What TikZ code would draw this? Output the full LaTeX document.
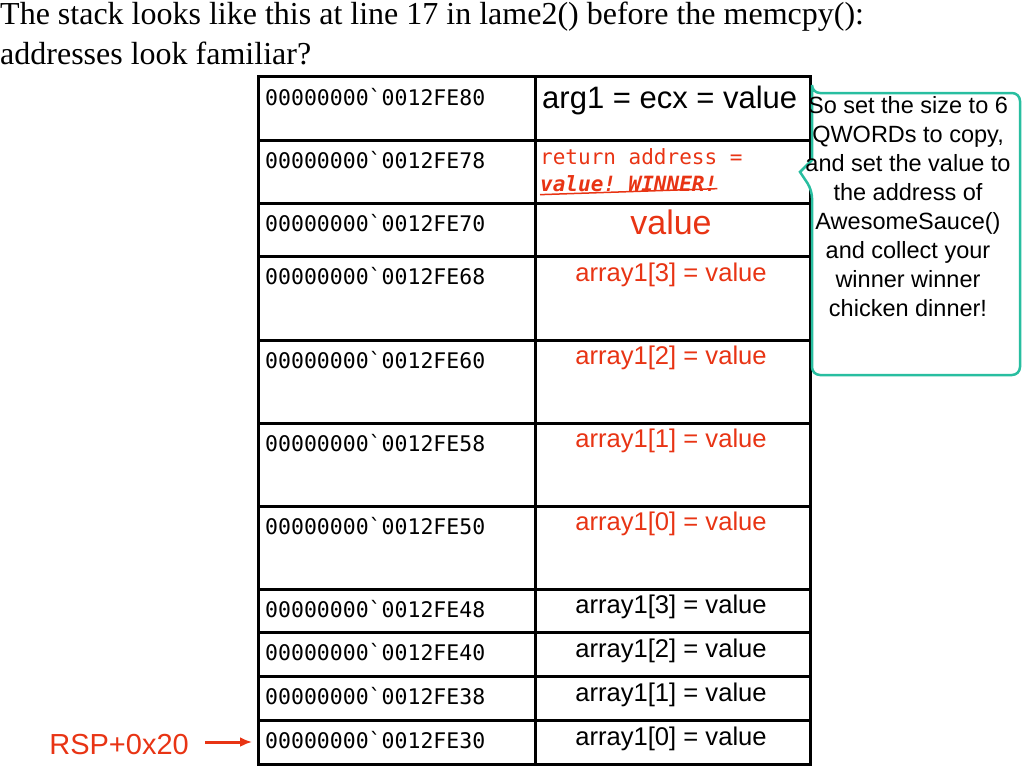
\documentclass[tikz,border=0pt]{standalone}
\usepackage{fontspec}
\setmainfont{Liberation Serif}
\setsansfont{Liberation Sans}
\setmonofont{DejaVu Sans Mono}
\usetikzlibrary{arrows.meta}
\definecolor{myred}{RGB}{232,52,20}
\definecolor{teal2}{RGB}{40,190,160}
\begin{document}
\begin{tikzpicture}[x=1pt,y=-1pt,
  cell/.style={draw=black,line width=3pt},
  addr/.style={anchor=north west,font=\ttfamily\fontsize{21.5}{23}\selectfont,inner sep=0pt},
  val/.style={anchor=north,font=\sffamily\fontsize{25.6}{27}\selectfont,inner sep=0pt}]
\useasboundingbox (0,0) rectangle (1024,768);
\node[anchor=north west,inner sep=0pt,align=left,font=\fontsize{32}{40}\selectfont] (title) at (0,2)
  {The stack looks like this at line 17 in lame2() before the memcpy():\\addresses look familiar?};
\foreach \t/\b [count=\i] in {76/140,140/203,203/256,256/340,340/423,423/506,506/589,589/632,632/676,676/720,720/764}{
  \draw[cell] (258,\t) rectangle (535,\b);
  \draw[cell] (535,\t) rectangle (810,\b);
}
\node[addr] (a1) at (265,88) {00000000`0012FE80};
\node[addr] (a2) at (265,151) {00000000`0012FE78};
\node[addr] (a3) at (265,214) {00000000`0012FE70};
\node[addr] (a4) at (265,267) {00000000`0012FE68};
\node[addr] (a5) at (265,351) {00000000`0012FE60};
\node[addr] (a6) at (265,434) {00000000`0012FE58};
\node[addr] (a7) at (265,517) {00000000`0012FE50};
\node[addr] (a8) at (265,600) {00000000`0012FE48};
\node[addr] (a9) at (265,643) {00000000`0012FE40};
\node[addr] (a10) at (265,687) {00000000`0012FE38};
\node[addr] (a11) at (265,731) {00000000`0012FE30};
\node[val,anchor=north west,font=\sffamily\fontsize{31}{33}\selectfont] (v1) at (542,86) {arg1 = ecx = value};
\node[anchor=north west,inner sep=0pt,text=myred,font=\ttfamily\fontsize{21}{22}\selectfont] (v2) at (540,148) {return address =};
\node[anchor=north west,inner sep=0pt,text=myred,font=\ttfamily\bfseries\itshape\fontsize{21}{22}\selectfont] (v2b) at (540,175) {value! WINNER!};
\draw[myred,line width=1.5pt] (v2b.south west) ++(0,3) -- ([yshift=3pt]v2b.south east);
\node[val,text=myred,font=\sffamily\fontsize{34}{36}\selectfont] (v3) at (671,210) {value};
\node[val,text=myred] (v4) at (671,263) {array1[3] = value};
\node[val,text=myred] (v5) at (671,346) {array1[2] = value};
\node[val,text=myred] (v6) at (671,429) {array1[1] = value};
\node[val,text=myred] (v7) at (671,512) {array1[0] = value};
\node[val] (v8) at (671,595) {array1[3] = value};
\node[val] (v9) at (671,639) {array1[2] = value};
\node[val] (v10) at (671,683) {array1[1] = value};
\node[val] (v11) at (671,727) {array1[0] = value};
\draw[teal2,line width=2.5pt,fill=white,rounded corners=8pt]
  (812,93) -- (1020,93) -- (1020,375) -- (812,375) -- (812,190) [sharp corners]-- (800,172) -- (812,160) [rounded corners=8pt]-- (812,93) -- cycle;
\node[anchor=north,inner sep=0pt,align=center,font=\sffamily\fontsize{23.5}{29}\selectfont] (callout) at (908,96)
  {So set the size to 6\\QWORDs to copy,\\and set the value to\\the address of\\AwesomeSauce()\\and collect your\\winner winner\\chicken dinner!};
\node[anchor=east,inner sep=0pt,text=myred,font=\sffamily\fontsize{29}{31}\selectfont] (rsp) at (189,745) {RSP+0x20};
\coordinate (tip) at (252,742);
\draw[myred,line width=3pt,-{Latex[length=12pt,width=10pt]}] (205,742) -- (tip);
\end{tikzpicture}
\end{document}
